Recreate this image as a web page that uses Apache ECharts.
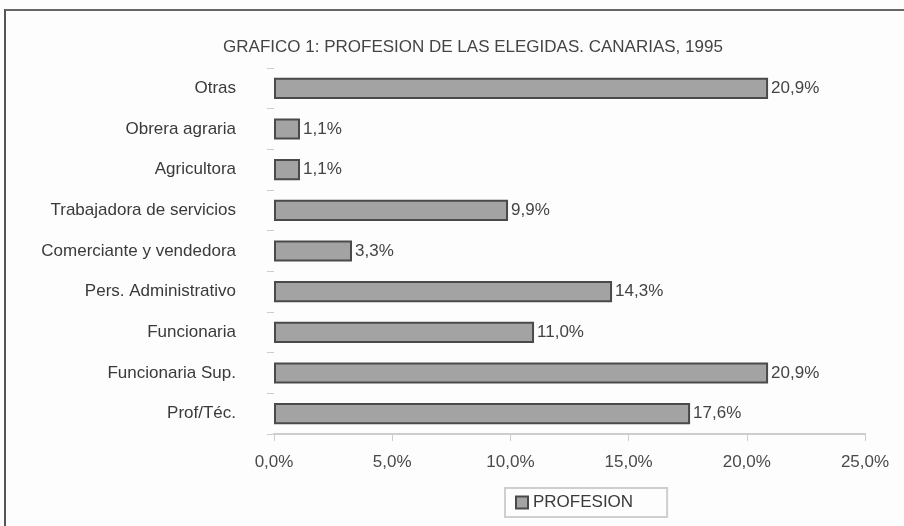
<!DOCTYPE html>
<html>
<head>
<meta charset="utf-8">
<script src="https://cdn.jsdelivr.net/npm/echarts@6/dist/echarts.min.js"></script>
<style>
  body { margin: 0; background: #fdfdfd; }
  #wrap { position: relative; width: 904px; height: 526px; overflow: hidden; }
  #frame { position: absolute; left: 4px; top: 9px; width: 910px; height: 530px;
           border-left: 2px solid #555; border-top: 2px solid #666; }
  #chart { position: absolute; left: 0; top: 0; width: 904px; height: 526px; }
</style>
</head>
<body>
<div id="wrap">
  <div id="frame"></div>
  <div id="chart"></div>
</div>
<script>
// categorías de abajo hacia arriba (eje Y de ECharts empieza abajo)
const categorias = [
  "Prof/Téc.",
  "Funcionaria Sup.",
  "Funcionaria",
  "Pers. Administrativo",
  "Comerciante y vendedora",
  "Trabajadora de servicios",
  "Agricultora",
  "Obrera agraria",
  "Otras"
];
const profesion = [17.6, 20.9, 11.0, 14.3, 3.3, 9.9, 1.1, 1.1, 20.9];
const ticksX = [0, 5, 10, 15, 20, 25];

const fmt = (v) => v.toFixed(1).replace(".", ",") + "%";
const fuente = "Liberation Sans, Arial, sans-serif";

const chart = echarts.init(document.getElementById("chart"));
const option = {
  backgroundColor: "transparent",
  animation: false,
  title: {
    text: "GRAFICO 1: PROFESION DE LAS ELEGIDAS. CANARIAS, 1995",
    left: 468,
    textAlign: "center",
    top: 34,
    textStyle: { fontFamily: fuente, fontSize: 17, fontWeight: "normal", color: "#444" }
  },
  legend: {
    data: ["PROFESION"],
    left: 505,
    top: 488,
    padding: [6, 34, 6, 10],
    borderColor: "#cfcfcf",
    borderWidth: 2,
    icon: "rect",
    itemWidth: 12,
    itemHeight: 12,
    textStyle: { fontFamily: fuente, fontSize: 17, color: "#3a3a3a" }
  },
  grid: { left: 274, right: 39, top: 68, bottom: 92, containLabel: false },
  xAxis: {
    type: "value",
    min: ticksX[0],
    max: ticksX[ticksX.length - 1],
    interval: 5,
    axisLine: { show: true, lineStyle: { color: "#cdcdcd", width: 2 } },
    axisTick: { show: true, length: 7, lineStyle: { color: "#cdcdcd" } },
    splitLine: { show: false },
    axisLabel: {
      margin: 20,
      fontFamily: fuente,
      fontSize: 17,
      color: "#4a4a4a",
      formatter: (v) => fmt(v)
    }
  },
  yAxis: {
    type: "category",
    data: categorias,
    axisLine: { show: false },
    axisTick: { show: true, length: 7, lineStyle: { color: "#cdcdcd" } },
    axisLabel: {
      margin: 38,
      fontFamily: fuente,
      fontSize: 17,
      color: "#3a3a3a"
    }
  },
  series: [
    {
      name: "PROFESION",
      type: "bar",
      data: profesion,
      barCategoryGap: "48%",
      itemStyle: { color: "#a3a3a3", borderColor: "#4a4a4a", borderWidth: 2 },
      label: {
        show: true,
        position: "right",
        distance: 3,
        fontFamily: fuente,
        fontSize: 17,
        color: "#444",
        formatter: (p) => fmt(p.value)
      }
    }
  ]
};
chart.setOption(option);
</script>
</body>
</html>
